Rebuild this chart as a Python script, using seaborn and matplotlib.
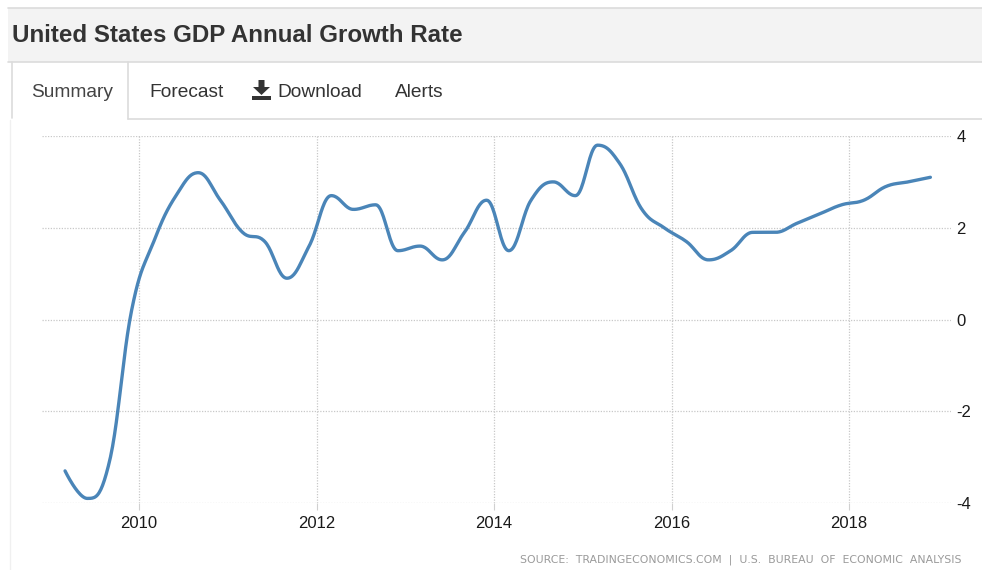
import numpy as np
import matplotlib
matplotlib.use("Agg")
import matplotlib.pyplot as plt
from matplotlib.patches import Rectangle, Polygon
from matplotlib.lines import Line2D
import seaborn as sns

# Quarterly US GDP, year-on-year growth (%), 2009Q1 .. 2018Q4
years = [2009, 2010, 2011, 2012, 2013, 2014, 2015, 2016, 2017, 2018]
quarters = [1, 2, 3, 4]
growth = [-3.3, -3.9, -3.1, 0.2,
          1.7, 2.7, 3.2, 2.6,
          1.9, 1.7, 0.9, 1.6,
          2.7, 2.4, 2.5, 1.5,
          1.6, 1.3, 1.9, 2.6,
          1.5, 2.6, 3.0, 2.7,
          3.8, 3.4, 2.4, 2.0,
          1.7, 1.3, 1.5, 1.9,
          1.9, 2.1, 2.3, 2.5,
          2.6, 2.9, 3.0, 3.1]
x_ticks = [2010, 2012, 2014, 2016, 2018]
y_ticks = [-4, -2, 0, 2, 4]

title = "United States GDP Annual Growth Rate"
tabs = ["Summary", "Forecast", "Download", "Alerts"]
source = "SOURCE:  TRADINGECONOMICS.COM  |  U.S.  BUREAU  OF  ECONOMIC  ANALYSIS"

W, H = 982, 570
LINE = "#4a85b8"
TEXT = "#333333"
BORDER = "#dcdcdc"

sns.set_theme(style="white")
plt.rcParams["font.family"] = ["Liberation Sans", "DejaVu Sans"]

# each observation sits at the start of the quarter's last month
qpos = np.array([y + (q * 3 - 1) / 12 for y in years for q in quarters])
vals = np.array(growth, dtype=float)


def spline_curve(xs, ys, smoothing=1.5, steps=24):
    """Smooth cubic-Bezier rendering through every observation."""
    n = len(xs)
    denom = smoothing + 1
    lc = [(x, y) for x, y in zip(xs, ys)]
    rc = [(x, y) for x, y in zip(xs, ys)]
    for i in range(1, n - 1):
        px, py = xs[i], ys[i]
        lx, ly = xs[i - 1], ys[i - 1]
        nx, ny = xs[i + 1], ys[i + 1]
        lcx = (smoothing * px + lx) / denom
        lcy = (smoothing * py + ly) / denom
        rcx = (smoothing * px + nx) / denom
        rcy = (smoothing * py + ny) / denom
        corr = (rcy - lcy) * (rcx - px) / (rcx - lcx) + py - rcy
        lcy += corr
        rcy += corr
        if lcy > ly and lcy > py:
            lcy = max(ly, py); rcy = 2 * py - lcy
        elif lcy < ly and lcy < py:
            lcy = min(ly, py); rcy = 2 * py - lcy
        if rcy > ny and rcy > py:
            rcy = max(ny, py); lcy = 2 * py - rcy
        elif rcy < ny and rcy < py:
            rcy = min(ny, py); lcy = 2 * py - rcy
        lc[i] = (lcx, lcy)
        rc[i] = (rcx, rcy)
    t = np.linspace(0, 1, steps, endpoint=False)[:, None]
    segs = []
    for i in range(1, n):
        p0 = np.array([xs[i - 1], ys[i - 1]])
        p1 = np.array(rc[i - 1])
        p2 = np.array(lc[i])
        p3 = np.array([xs[i], ys[i]])
        segs.append((1 - t) ** 3 * p0 + 3 * (1 - t) ** 2 * t * p1
                    + 3 * (1 - t) * t ** 2 * p2 + t ** 3 * p3)
    segs.append(np.array([[xs[-1], ys[-1]]]))
    pts = np.vstack(segs)
    return pts[:, 0], pts[:, 1]


fig = plt.figure(figsize=(W / 100, H / 100), dpi=100)
fig.patch.set_facecolor("white")


def fx(px):
    return px / W


def fy(py):
    return 1 - py / H


# header band
fig.patches.append(Rectangle((fx(8), fy(62)), fx(W - 8), (62 - 8) / H,
                             transform=fig.transFigure, facecolor="#f3f3f3",
                             edgecolor="none", zorder=0))
for y0 in (8, 62):
    fig.lines.append(Line2D([fx(8), 1], [fy(y0), fy(y0)], transform=fig.transFigure,
                            color=BORDER, lw=1.2))
fig.text(fx(12), fy(35), title, fontsize=17.4, fontweight="bold", color=TEXT,
         ha="left", va="center")

# tab strip
fig.lines.append(Line2D([fx(12), fx(12)], [fy(62), fy(118)], transform=fig.transFigure,
                        color=BORDER, lw=1.2))
fig.lines.append(Line2D([fx(128), fx(128)], [fy(62), fy(119)], transform=fig.transFigure,
                        color=BORDER, lw=1.2))
fig.lines.append(Line2D([fx(128), 1], [fy(119), fy(119)], transform=fig.transFigure,
                        color=BORDER, lw=1.2))
fig.lines.append(Line2D([fx(10), fx(10)], [fy(120), 0], transform=fig.transFigure,
                        color="#f0f0f0", lw=1.0))
tab_x = [31, 149, 277, 395]
for label, x0 in zip(tabs, tab_x):
    fig.text(fx(x0), fy(92), label, fontsize=13.8, color=TEXT if label != "Summary" else "#444444",
             ha="left", va="center")

# download glyph: arrow into a tray
arrow = [(258.5, 80), (264.5, 80), (264.5, 87), (270, 87), (261.5, 95), (253, 87), (258.5, 87)]
fig.patches.append(Polygon([(fx(a), fy(b)) for a, b in arrow], closed=True,
                           transform=fig.transFigure, facecolor=TEXT, edgecolor="none"))
fig.patches.append(Rectangle((fx(252), fy(100)), fx(19), 4 / H, transform=fig.transFigure,
                             facecolor=TEXT, edgecolor="none"))

# chart area
ax = fig.add_axes([fx(42), fy(503), fx(951 - 42), (503 - 136) / H])
ax.set_facecolor("none")
cx, cy = spline_curve(qpos, vals)
sns.lineplot(x=cx, y=cy, sort=False, color=LINE, linewidth=2.4, ax=ax, zorder=3)

ax.set_xlim(2008.907, 2019.149)
ax.set_ylim(-4, 4)
ax.set_xticks(x_ticks)
ax.set_xticklabels([str(v) for v in x_ticks])
ax.set_yticks(y_ticks)
ax.set_yticklabels([str(v) for v in y_ticks])
ax.yaxis.tick_right()
ax.grid(True, color="#c8c8c8", linestyle=(0, (1, 1.2)), linewidth=0.9)
for s in ax.spines.values():
    s.set_visible(False)
ax.tick_params(axis="x", length=5, width=0.8, color="#d0d0d0", pad=4,
               labelsize=12, labelcolor="#1a1a1a", bottom=True)
ax.tick_params(axis="y", length=0, pad=4, labelsize=12, labelcolor="#1a1a1a", right=True, left=False)
ax.set_xlabel("")
ax.set_ylabel("")

fig.text(fx(962), fy(560), source, fontsize=7.8, color="#9a9a9a", ha="right", va="center",
         family=["DejaVu Sans"])

fig.savefig("out.png", dpi=100, facecolor="white")
